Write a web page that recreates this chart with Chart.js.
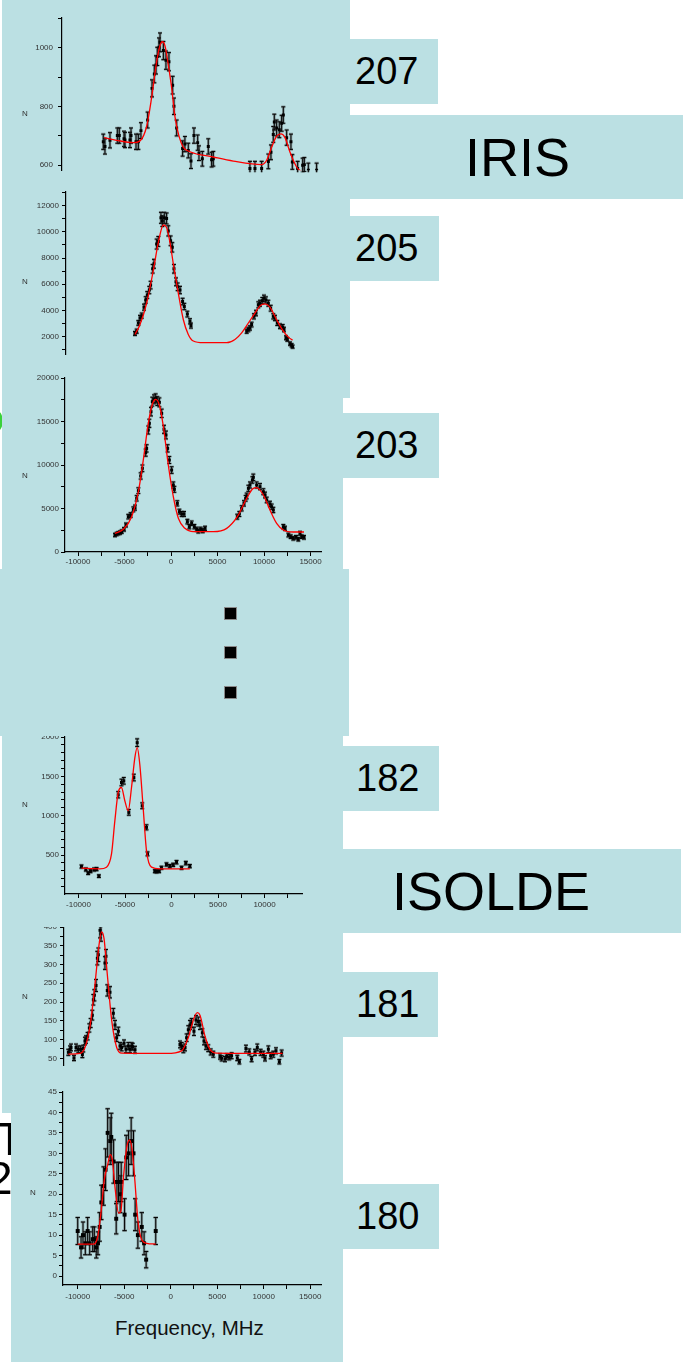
<!DOCTYPE html>
<html>
<head>
<meta charset="utf-8">
<script src="https://cdn.jsdelivr.net/npm/chart.js@4.4.1/dist/chart.umd.min.js"></script>
<style>
  body { margin: 0; background: #fff; }
  #page { position: relative; width: 683px; height: 1362px; overflow: hidden; font-family: "Liberation Sans", Arial, sans-serif; }
  .panel { position: absolute; background: #bbe0e3; overflow: hidden; }
  .panel canvas { position: absolute; }
  .tag { position: absolute; background: #bbe0e3; color: #000; white-space: nowrap; box-sizing: border-box; }
  .n { position: absolute; font-size: 8px; color: #333; transform: translate(-50%, -50%); }
  .dot { position: absolute; width: 11px; height: 11px; background: #000; border: 1px solid #888; }
</style>
</head>
<body>
<div id="page"></div>
<script>
// -----------------------------------------------------------------------------
// DATA (frequency in MHz, counts N, error on N, fitted curve)
// -----------------------------------------------------------------------------
const f207 = [-7280,-7100,-6560,-5770,-5560,-5050,-4950,-4410,-4300,-3760,-3510,-3230,-2510,-2040,-1790,-1610,-1470,-1290,-1180,-820,-540,-220,180,320,610,1250,1500,1860,2150,2470,2870,3010,3370,4010,4370,4550,8490,9030,9750,10470,10750,11000,11110,11360,11650,11900,12080,12440,12900,13050,13620,14160,14340,14770,15660];
const n207 = [680,664,685,701,701,690,686,686,701,680,680,718,754,862,911,942,971,1002,1019,991,958,953,873,801,727,657,672,650,614,701,677,641,622,664,619,622,589,589,589,613,644,705,747,727,721,743,771,694,680,611,589,600,602,583,583];
const e207 = [26,26,26,26,26,26,26,26,26,26,26,27,27,29,30,31,31,32,32,31,31,31,30,28,27,26,26,25,25,26,26,25,25,26,25,25,24,24,24,25,25,27,27,27,27,27,28,26,26,25,24,24,24,24,24];
const fit207x = [-7200,-5840,-4050,-3330,-2620,-2080,-1540,-1180,-930,-650,-290,70,430,860,1330,2040,4550,6700,9750,10290,10820,11360,11830,12260,12800,13510,14050,15000];
const fit207y = [694,685,677,683,732,831,953,1008,1021,1008,942,864,765,699,661,646,628,614,602,617,661,699,707,694,644,594,578,560];

const f205 = [-3870,-3690,-3510,-3330,-3150,-2900,-2720,-2550,-2330,-2190,-1970,-1830,-1540,-1360,-1080,-930,-720,-470,-290,-40,140,320,540,720,970,1250,1430,1760,2040,2150,
              8140,8320,8490,8670,8920,9140,9390,9570,9820,10000,10210,10470,10720,11000,11180,11430,11720,12010,12150,12370,12510,12800,12970,13080];
const n205 = [2230,2400,3030,3410,3590,4240,4790,5170,5550,5930,7180,7560,9070,9270,11080,10830,11080,11030,10080,9320,8820,7180,6180,5800,5550,4670,4290,3710,3160,2830,
              2400,2530,2650,2910,3540,3790,4420,4540,4740,4920,4790,4540,4160,3540,3410,3030,2780,2730,2530,1900,1770,1450,1320,1220];
const e205 = [150,160,180,200,200,230,250,260,280,290,330,340,380,380,420,410,420,420,390,370,360,330,300,290,280,250,240,220,200,190,
              160,170,170,180,200,210,230,230,240,240,240,230,220,200,200,190,180,180,170,150,140,130,130,120];
const fit205x = [-3870,-3330,-2620,-1900,-1360,-820,-470,-110,250,790,1330,1860,2400,3480,5990,6880,7600,8320,9030,9570,10110,10640,11360,12080,12620,13080];
const fit205y = [2150,2910,4540,7060,9200,10530,10330,9200,7560,5300,3280,2150,1650,1520,1520,1770,2280,3030,3790,4340,4490,4240,3280,2400,1950,1720];

const f203 = [-6020,-5840,-5660,-5480,-5300,-5050,-4840,-4590,-4340,-4050,-3870,-3690,-3510,-3260,-3080,-2720,-2620,-2440,-2330,-2150,-2010,-1830,-1650,-1470,-1250,-1000,-750,-540,-360,-180,70,250,360,680,900,1150,1400,1760,1970,2220,2510,2760,2940,3190,3410,3660,
              7130,7350,7600,7850,8030,8140,8320,8490,8750,8850,9210,9570,9930,10110,10290,10640,10820,11000,12080,12260,12620,12870,13150,13440,13690,13870,14050,14300];
const n203 = [1950,2070,2150,2220,2340,2610,3100,4060,4250,4900,5100,6170,7050,8740,9620,11420,11910,14020,14790,16130,17280,17550,17660,17350,17200,15940,14100,13450,11910,10570,9420,7700,7200,5590,4640,4370,4370,3490,2910,3300,2910,2610,2410,2610,2450,2720,
              4060,4370,5020,5590,6170,6440,7320,7700,8280,8580,7700,7510,6930,6550,5980,5520,5210,4830,2910,2720,1950,1760,1570,1690,1460,2150,1760,1690];
const e203 = [190,190,190,200,200,210,230,260,270,280,290,310,330,360,380,410,420,460,470,490,510,510,510,510,510,480,460,450,420,400,380,350,340,300,280,280,280,260,250,260,250,240,230,240,230,240,
              280,290,300,310,330,330,350,350,370,370,350,350,340,330,320,310,300,300,250,240,220,210,200,210,200,220,210,210];
const fit203x = [-6020,-5120,-4230,-3510,-2980,-2440,-1970,-1650,-1250,-820,-290,250,790,1500,2400,4550,5990,7130,8140,8850,9210,9930,10640,11360,12080,13150,14300];
const fit203y = [2150,2610,4060,6930,10570,14790,17090,17550,16900,14410,10000,6360,3870,2720,2340,2340,2720,4060,6170,7320,7390,6550,4830,3300,2530,2300,2300];

const f182 = [-9680,-9210,-8960,-8710,-8320,-8060,-7810,-5730,-5380,-5130,-4590,-4050,-3690,-3150,-2690,-2580,-1790,-1610,-1330,-1080,-540,-180,180,540,1080,1540,1970];
const n182 = [354,316,270,295,316,321,232,1266,1422,1443,1042,1485,1928,1126,852,515,295,291,295,338,380,359,375,409,338,397,359];
const e182 = [20,20,18,19,20,20,17,40,42,42,36,42,48,37,32,25,19,19,19,20,21,21,21,22,20,22,21];
const fit182x = [-9680,-7710,-6990,-6450,-6090,-5730,-5380,-5020,-4660,-4300,-3940,-3690,-3410,-3050,-2690,-2150,-1250,1970];
const fit182y = [333,325,346,515,937,1295,1358,1190,1063,1358,1738,1865,1654,1105,557,346,325,325];

const f181 = [-11040,-10860,-10750,-10430,-10210,-9960,-9710,-9530,-9430,-9250,-9140,-8960,-8780,-8640,-8460,-8350,-8240,-8060,-7920,-7810,-7630,-7530,-7100,-6990,-6850,-6560,-6200,-6020,-5840,-5660,-5480,-5300,-5050,-4840,-4590,-4410,-4230,-4120,-3870,
              970,1150,1330,1510,1680,1860,2040,2220,2470,2690,2940,3120,3370,3550,3760,4010,4270,4550,5270,5450,5810,5990,6270,6520,7130,7350,8060,8420,8670,9030,9280,9640,9930,10110,10470,10720,11000,11290,11650,11900];
const n181 = [66,74,79,51,79,74,74,60,76,96,100,109,131,144,165,206,218,244,317,326,391,382,304,322,231,226,170,139,105,122,83,79,90,74,83,74,83,81,73,
              87,83,74,79,105,126,139,144,122,152,148,139,118,96,83,77,67,61,55,50,48,55,53,57,51,41,76,67,48,66,79,66,61,50,74,57,61,70,41,64];
const e181 = [8,9,9,7,9,9,9,8,9,10,10,10,11,12,13,14,15,16,18,18,20,20,17,18,15,15,13,12,10,11,9,9,9,9,9,9,9,9,9,
              9,9,9,9,10,11,12,12,11,12,12,12,11,10,9,9,8,8,7,7,7,7,7,8,7,6,9,8,7,8,9,8,8,7,9,8,8,8,6,8];
const fit181x = [-11040,-9790,-9250,-8710,-8170,-7740,-7460,-7200,-6850,-6380,-5840,-5300,-470,1150,1860,2470,2830,3120,3660,4190,4910,12000];
const fit181y = [61,63,79,135,248,352,387,369,274,152,79,64,63,70,105,157,172,165,109,74,64,63];

const f180 = [-10000,-9640,-9430,-9180,-8930,-8710,-8390,-8210,-8000,-7820,-7640,-7460,-7210,-7000,-6780,-6500,-6390,-6140,-5860,-5780,-5610,-5430,-5320,-4960,-4780,-4530,-4250,-4000,-3820,-3530,-3110,-2860,-2640,-1610];
const n180 = [11,7,10,8,11,8,9,9,7,8,12,18,22,26,35,33,34,28,14,23,23,20,23,15,29,30,33,30,15,10,12,8,4,11];
const e180 = [3.3,2.6,3.2,2.8,3.3,2.8,3,3,2.6,2.8,3.5,4.2,4.7,5.1,5.9,5.7,5.8,5.3,3.7,4.8,4.8,4.5,4.8,3.9,5.4,5.5,5.7,5.5,3.9,3.2,3.5,2.8,2,3.3];
const fit180x = [-10000,-8280,-7850,-7500,-7140,-6780,-6500,-6280,-5960,-5610,-5360,-5070,-4710,-4430,-4180,-3890,-3530,-3110,-2570,-1610];
const fit180y = [7.8,7.8,9.6,15.4,23.5,27.2,29.7,28.4,21.1,15.4,15.8,24.4,31.7,33.3,31.3,24.4,13.7,8.8,8,7.8];

const FONT = '"Liberation Sans", Arial, sans-serif';
const page = document.getElementById('page');

// -----------------------------------------------------------------------------
// HELPERS
// -----------------------------------------------------------------------------
function box(x, y, w, h, cls) {
  const d = document.createElement('div');
  d.className = cls || 'panel';
  Object.assign(d.style, { left: x + 'px', top: y + 'px', width: w + 'px', height: h + 'px' });
  page.appendChild(d);
  return d;
}

function tag(x, y, w, h, text, size, padLeft) {
  const d = box(x, y, w, h, 'tag');
  d.style.fontSize = size + 'px';
  d.style.lineHeight = h + 'px';
  d.style.paddingLeft = padLeft + 'px';
  d.textContent = text;
}

function label(x, y, text) {
  const d = document.createElement('div');
  d.className = 'n';
  d.style.left = x + 'px';
  d.style.top = y + 'px';
  d.textContent = text;
  page.appendChild(d);
}

const pairs = (xs, ys) => xs.map((x, i) => ({ x, y: ys[i] }));

// ticks on every multiple of step inside the axis range
const stepTicks = step => sc => {
  const t = [];
  for (let k = Math.ceil(sc.min / step - 1e-9); k * step <= sc.max + 1e-9; k++) {
    t.push({ value: Math.round(k * step * 1000) / 1000 });
  }
  sc.ticks = t;
};

// error bars drawn under the points, through the y scale
const errorBars = {
  id: 'errorBars',
  beforeDatasetsDraw(chart) {
    const { ctx, chartArea: a, scales } = chart;
    chart.data.datasets.forEach((ds, i) => {
      if (!ds.errors) return;
      const meta = chart.getDatasetMeta(i);
      ctx.save();
      ctx.beginPath();
      ctx.rect(a.left, a.top - 2, a.right - a.left, a.bottom - a.top + 4);
      ctx.clip();
      meta.data.forEach((el, j) => {
        const v = ds.data[j].y, e = ds.errors[j];
        const top = scales.y.getPixelForValue(v + e);
        const bot = scales.y.getPixelForValue(v - e);
        const x = el.x, c = ds.cap;
        [['rgba(70,70,70,0.45)', 2.6], ['#000', 1]].forEach(([col, w]) => {
          ctx.strokeStyle = col;
          ctx.lineWidth = w;
          ctx.beginPath();
          ctx.moveTo(x, top); ctx.lineTo(x, bot);
          ctx.moveTo(x - c, top); ctx.lineTo(x + c, top);
          ctx.moveTo(x - c, bot); ctx.lineTo(x + c, bot);
          ctx.stroke();
        });
      });
      ctx.restore();
    });
  }
};

// -----------------------------------------------------------------------------
// ONE SPECTRUM
// -----------------------------------------------------------------------------
function spectrum(s) {
  const [px, py, pw, ph] = s.panel;
  const panel = box(px, py, pw, ph);
  const top = s.T - 12;
  const xH = s.showX ? 22 : 0;
  const canvas = document.createElement('canvas');
  canvas.width = 350;
  canvas.height = s.B - top + (s.showX ? xH : 5);
  canvas.style.left = -px + 'px';
  canvas.style.top = (top - py) + 'px';
  panel.appendChild(canvas);

  const tickFont = { size: 8, family: FONT };
  const isMajor = (v, m) => Math.abs(v / m - Math.round(v / m)) < 1e-6;
  new Chart(canvas, {
    type: 'scatter',
    data: {
      datasets: [
        { data: pairs(s.fx, s.fy), showLine: true, borderColor: '#ff0000', borderWidth: 1.3,
          pointRadius: 0, cubicInterpolationMode: 'monotone', order: 0 },
        { data: pairs(s.f, s.n), errors: s.e, cap: s.cap, pointStyle: 'rect', pointRadius: s.pt,
          backgroundColor: '#000', borderWidth: 0, order: 1 }
      ]
    },
    options: {
      responsive: false,
      animation: false,
      devicePixelRatio: 1,
      layout: { padding: { top: 12, left: 0, right: 350 - s.R, bottom: s.showX ? 0 : 5 } },
      plugins: { legend: { display: false }, tooltip: { enabled: false } },
      scales: {
        x: {
          type: 'linear', min: s.x[0], max: s.x[1], display: s.showX,
          afterBuildTicks: stepTicks(2500),
          afterFit: sc => { sc.height = xH; },
          border: { display: true, color: '#000', width: 1.2 },
          grid: { drawOnChartArea: false, tickLength: 4, color: '#000' },
          ticks: { autoSkip: false, maxRotation: 0, padding: s.xPad, color: '#333', font: tickFont,
                   callback: v => (isMajor(v, 5000) ? String(v) : '') }
        },
        y: {
          min: s.y[0], max: s.y[1],
          afterBuildTicks: stepTicks(s.yStep),
          afterFit: sc => { sc.width = s.L; },
          border: { display: true, color: '#000', width: 1.2 },
          grid: { drawOnChartArea: false, tickLength: 4, color: '#000' },
          ticks: { autoSkip: false, padding: s.yPad, color: '#333', font: tickFont,
                   callback: v => (isMajor(v, s.yMajor) ? String(v) : '') }
        }
      }
    },
    plugins: [errorBars]
  });
  label(s.N[0], s.N[1], 'N');
}

// -----------------------------------------------------------------------------
// LAYOUT
// -----------------------------------------------------------------------------
// green mark peeking in at the left edge
const g = box(-9, 411, 12, 20, 'panel');
g.style.background = '#3ad13a';
g.style.borderRadius = '50%';

spectrum({ panel: [2, 0, 348, 177], L: 62, R: 338, T: 18, B: 175, showX: false,
  x: [-11720, 17960], y: [583, 1102], yStep: 100, yMajor: 200, yPad: 5, xPad: 1,
  f: f207, n: n207, e: e207, fx: fit207x, fy: fit207y, pt: 2.1, cap: 2, N: [25, 113] });

spectrum({ panel: [2, 177, 348, 221], L: 66, R: 338, T: 192, B: 357, showX: false,
  x: [-11290, 17960], y: [641, 13057], yStep: 1000, yMajor: 2000, yPad: 3, xPad: 1,
  f: f205, n: n205, e: e205, fx: fit205x, fy: fit205y, pt: 2.1, cap: 2, N: [25, 281] });

spectrum({ panel: [2, 360, 341, 209], L: 65, R: 321, T: 378, B: 552, showX: true,
  x: [-11398, 16129], y: [0, 20000], yStep: 2500, yMajor: 5000, yPad: 2, xPad: 1,
  f: f203, n: n203, e: e203, fx: fit203x, fy: fit203y, pt: 2.1, cap: 2, N: [25, 475] });

// the "more isotopes" gap
const gap = box(0, 569, 349, 167);
[607, 646, 686].forEach(y => {
  const d = document.createElement('div');
  d.className = 'dot';
  d.style.left = '224px';
  d.style.top = (y - 569) + 'px';
  gap.appendChild(d);
});

spectrum({ panel: [2, 736, 341, 191], L: 65, R: 302, T: 737, B: 894, showX: true,
  x: [-11452, 14032], y: [5, 2000], yStep: 100, yMajor: 500, yPad: 2, xPad: 2,
  f: f182, n: n182, e: e182, fx: fit182x, fy: fit182y, pt: 2.1, cap: 2, N: [25, 804] });

spectrum({ panel: [2, 927, 341, 142], L: 64, R: 338, T: 927, B: 1068, showX: false,
  x: [-11505, 17960], y: [31.7, 400], yStep: 25, yMajor: 50, yPad: 3, xPad: 1,
  f: f181, n: n181, e: e181, fx: fit181x, fy: fit181y, pt: 2.1, cap: 2, N: [25, 996] });

spectrum({ panel: [2, 1069, 341, 293], L: 63, R: 321, T: 1092, B: 1285, showX: true,
  x: [-11581, 16161], y: [-2.2, 45], yStep: 2.5, yMajor: 5, yPad: 2, xPad: 3,
  f: f180, n: n180, e: e180, fx: fit180x, fy: fit180y, pt: 2.8, cap: 2.2, N: [33, 1192] });

const xt = document.createElement('div');
Object.assign(xt.style, { position: 'absolute', left: '115px', top: '1318px', fontSize: '20.5px',
  lineHeight: '20.5px', color: '#111', whiteSpace: 'nowrap' });
xt.textContent = 'Frequency, MHz';
page.appendChild(xt);

// white notch at the lower left with cut-off slide text behind it
const notch = box(0, 1113, 11, 249, 'panel');
notch.style.background = '#fff';
[['T', -4, 3], ['2', -13, 42]].forEach(([t, x, y]) => {
  const s = document.createElement('div');
  Object.assign(s.style, { position: 'absolute', left: x + 'px', top: y + 'px', fontSize: '46px',
    lineHeight: '46px', color: '#000' });
  s.textContent = t;
  notch.appendChild(s);
});

// isotope tags and facility names
tag(350, 39, 88, 65, '207', 38, 5);
tag(350, 115, 333, 84, 'IRIS', 54, 115);
tag(350, 216, 89, 65, '205', 38, 5);
tag(343, 413, 96, 65, '203', 38, 12);
tag(343, 746, 96, 65, '182', 38, 13);
tag(343, 849, 338, 84, 'ISOLDE', 54, 49);
tag(343, 972, 95, 65, '181', 38, 13);
tag(343, 1184, 96, 65, '180', 38, 13);
</script>
</body>
</html>
